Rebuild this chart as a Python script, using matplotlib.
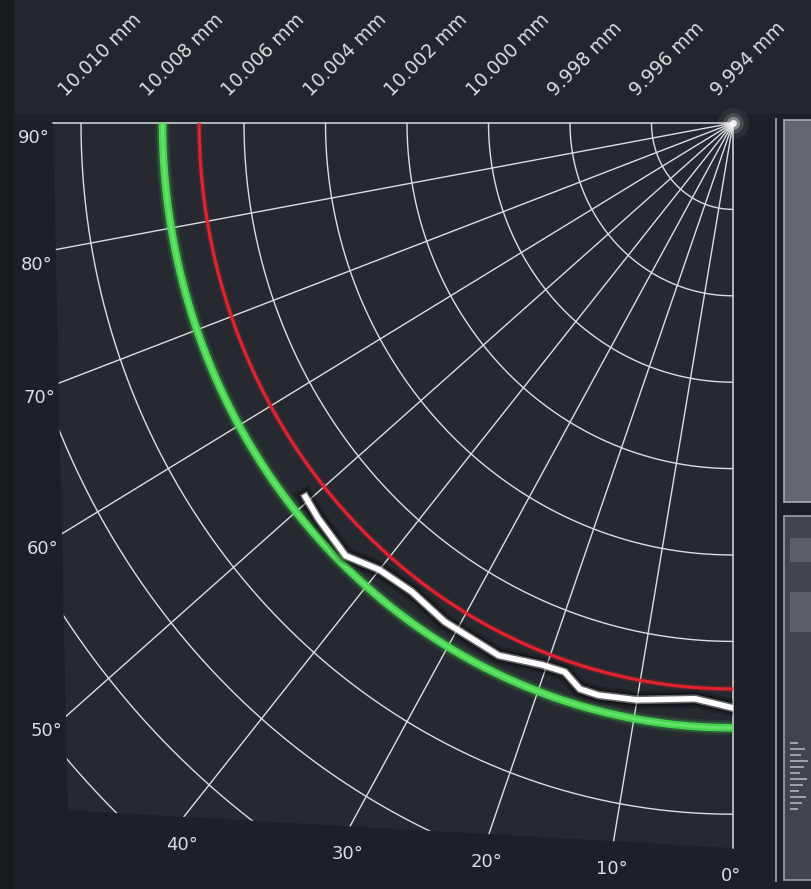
import numpy as np
import matplotlib
matplotlib.use("Agg")
import matplotlib.pyplot as plt
from matplotlib.patches import Polygon, Rectangle

W, H, DPI = 811, 889, 100

# ---------------------------------------------------------------- data
centre_mm = 9.994            # value at the pole of the chart
nominal_mm = 10.008          # nominal profile (green)
limit_mm = 10.0071           # limit profile (red)

# measured profile (white)
profile_angle_deg = [50.5, 48, 43.5, 40, 36, 31.5, 28, 25, 20.5, 18, 16, 14, 10, 4, 0]
profile_mm = [10.00760, 10.00769, 10.00781, 10.00750, 10.00741, 10.00754, 10.00755,
              10.00760, 10.00739, 10.00736, 10.00763, 10.00765, 10.00756, 10.00736,
              10.00754]

ring_mm = [9.996, 9.998, 10.000, 10.002, 10.004, 10.006, 10.008, 10.010,
           10.012, 10.014, 10.016]
radial_tick_mm = [10.010, 10.008, 10.006, 10.004, 10.002, 10.000, 9.998, 9.996, 9.994]
radial_tick_labels = ["10.010 mm", "10.008 mm", "10.006 mm", "10.004 mm", "10.002 mm",
                      "10.000 mm", "9.998 mm", "9.996 mm", "9.994 mm"]
ray_deg = [0, 10, 20, 30, 40, 50, 60, 70, 80, 90]
angle_labels = ["0°", "10°", "20°", "30°", "40°", "50°", "60°", "70°", "80°", "90°"]

# ---------------------------------------------------------------- style
BG = "#1d2027"
TOP_BAND = "#23262d"
PLOT_BG = "#262930"
GRID = "#dcdee2"
TXT = "#dadce0"
GREEN = "#48d651"
RED = "#e3222d"

PX_PER_UNIT_X = 40.75   # pixels per 0.001 mm, horizontal
PX_PER_UNIT_Y = 43.2    # pixels per 0.001 mm, vertical
PT = 72.0 / DPI         # points per pixel


def polar_xy(theta_deg, mm):
    th = np.radians(np.asarray(theta_deg, dtype=float))
    r = (np.asarray(mm, dtype=float) - centre_mm) * 1000.0
    return -r * np.sin(th), -r * np.cos(th)


fig = plt.figure(figsize=(W / DPI, H / DPI), dpi=DPI, facecolor=BG)


def fx(px):
    return px / W


def fy(py):
    return 1 - py / H


# background bands and the neighbouring panels
fig.add_artist(Rectangle((0, fy(114)), 1, 114 / H, transform=fig.transFigure,
                         facecolor=TOP_BAND, edgecolor="none", zorder=0))
fig.add_artist(Rectangle((0, 0), fx(14), 1, transform=fig.transFigure,
                         facecolor="#17191f", edgecolor="none", zorder=0))
fig.add_artist(Rectangle((fx(775), fy(882)), fx(2), (882 - 118) / H,
                         transform=fig.transFigure, facecolor="#8d9198",
                         edgecolor="none", zorder=1))
fig.add_artist(Rectangle((fx(784), fy(502)), fx(40), (502 - 120) / H,
                         transform=fig.transFigure, facecolor="#62676f",
                         edgecolor="#a8acb2", lw=1.2, zorder=1))
fig.add_artist(Rectangle((fx(784), fy(880)), fx(40), (880 - 516) / H,
                         transform=fig.transFigure, facecolor="#41454d",
                         edgecolor="#9a9ea5", lw=1.2, zorder=1))
for top, bot in [(538, 562), (592, 632)]:
    fig.add_artist(Rectangle((fx(790), fy(bot)), fx(30), (bot - top) / H,
                             transform=fig.transFigure, facecolor="#5a5e66",
                             edgecolor="none", zorder=2))
for k in range(12):
    yy = 742 + k * 6
    fig.add_artist(Rectangle((fx(790), fy(yy + 2)), fx(8 + (k * 7) % 11), 2 / H,
                             transform=fig.transFigure, facecolor="#9ea2a8",
                             edgecolor="none", zorder=2))

# ---------------------------------------------------------------- axes
L, R, T, B = 53, 733, 123, 848
ax = fig.add_axes([fx(L), fy(B), fx(R - L), (B - T) / H])
x0 = -(R - L) / PX_PER_UNIT_X
y0 = -(B - T) / PX_PER_UNIT_Y
ax.set_xlim(x0, 0)
ax.set_ylim(y0, 0)
ax.axis("off")

# plot face, slightly skewed at the lower left
corner = (0.022, 0.052)
area = Polygon([(0, 1), (1, 1), (1, 0), corner], closed=True, transform=ax.transAxes,
               facecolor=PLOT_BG, edgecolor="none", zorder=0)
ax.add_patch(area)


def clipped(lines):
    for ln in lines:
        ln.set_clip_path(area)
    return lines


theta = np.linspace(0, 90, 500)

# rings
for mm in ring_mm:
    x, y = polar_xy(theta, mm)
    clipped(ax.plot(x, y, color=GRID, lw=1.0, zorder=2))

# rays
for d in ray_deg:
    if d in (0, 90):
        span = -y0 if d == 0 else -x0
        x, y = polar_xy([d, d], [centre_mm, centre_mm + span / 1000.0])
        ax.plot(x, y, color=GRID, lw=1.1, zorder=2, clip_on=False)
    else:
        x, y = polar_xy([d, d], [centre_mm, centre_mm + 0.030])
        clipped(ax.plot(x, y, color=GRID, lw=1.0, zorder=2))

# bright spot at the pole
for s, a in [(500, 0.06), (220, 0.14), (90, 0.35), (25, 0.85)]:
    ax.scatter([0], [0], s=s, color="white", alpha=a, lw=0, zorder=3, clip_on=False)

# nominal profile (green) with glow
xg, yg = polar_xy(theta, np.full_like(theta, nominal_mm))
for lw, a in [(11, 0.10), (8.0, 0.22)]:
    clipped(ax.plot(xg, yg, color=GREEN, lw=lw, alpha=a, zorder=4,
                    solid_capstyle="butt"))
clipped(ax.plot(xg, yg, color=GREEN, lw=5.4, zorder=4, solid_capstyle="butt"))
clipped(ax.plot(xg, yg, color="#6fe873", lw=2.0, alpha=0.7, zorder=4,
                solid_capstyle="butt"))

# limit profile (red)
xr, yr = polar_xy(theta, np.full_like(theta, limit_mm))
clipped(ax.plot(xr, yr, color=RED, lw=4.5, alpha=0.2, zorder=4))
clipped(ax.plot(xr, yr, color=RED, lw=2.2, zorder=4))

# measured profile (white) with dark halo
xm, ym = polar_xy(profile_angle_deg, profile_mm)
for lw, a in [(13, 0.18), (9, 0.35)]:
    clipped(ax.plot(xm, ym, color="#000000", lw=lw, alpha=a, zorder=5,
                    solid_joinstyle="round"))
clipped(ax.plot(xm, ym, color="white", lw=6.2, alpha=0.35, zorder=5,
                solid_joinstyle="round"))
clipped(ax.plot(xm, ym, color="white", lw=4.0, zorder=5, solid_joinstyle="round"))

# radial tick labels along the top edge
for mm, lab in zip(radial_tick_mm, radial_tick_labels):
    x, _ = polar_xy(90, mm)
    ax.annotate(lab, xy=(float(x), 0), xycoords="data",
                xytext=(-12 * PT, 23 * PT), textcoords="offset points",
                rotation=45, rotation_mode="anchor", ha="left", va="bottom",
                color=TXT, fontsize=13.5, annotation_clip=False)


# angle labels where each ray leaves the plot face
def axes_to_data(p):
    return np.array([x0 * (1 - p[0]), y0 * (1 - p[1])])


top_left = axes_to_data((0, 1))
bot_left = axes_to_data(corner)
bot_right = axes_to_data((1, 0))


def ray_hit(d, a, b):
    u = np.array(polar_xy(d, centre_mm + 0.001))
    m = np.column_stack([u, -(b - a)])
    t, s = np.linalg.solve(m, a)
    return t * u


for d, lab in zip(ray_deg, angle_labels):
    if d <= 40:
        p = ray_hit(d, bot_left, bot_right)
        ax.annotate(lab, xy=p, xytext=(-2 * PT, -19 * PT), textcoords="offset points",
                    ha="center", va="top", color=TXT, fontsize=13,
                    annotation_clip=False)
    else:
        p = ray_hit(d, top_left, bot_left)
        ax.annotate(lab, xy=p, xytext=(-3 * PT, -6 * PT), textcoords="offset points",
                    ha="right", va="top", color=TXT, fontsize=13,
                    annotation_clip=False)

fig.savefig("out.png", dpi=DPI, facecolor=BG)
